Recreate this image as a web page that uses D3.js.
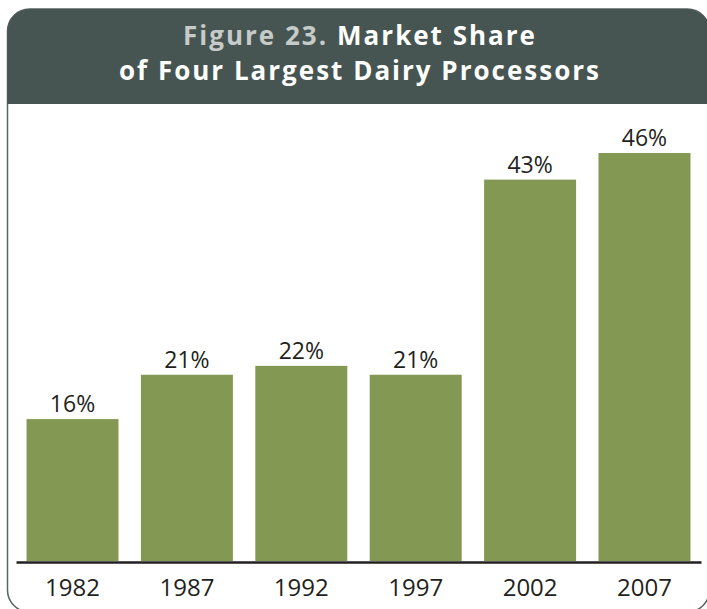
<!DOCTYPE html>
<html>
<head>
<meta charset="UTF-8">
<title>Market Share of Four Largest Dairy Processors</title>
<script src="https://d3js.org/d3.v7.min.js"></script>
<style>
  body { margin: 0; background: #fff; }
  svg text { font-family: 'Open Sans', sans-serif; }
</style>
</head>
<body>
<script>
  // data
  var years = ["1982", "1987", "1992", "1997", "2002", "2007"];
  var shares = [16, 21, 22, 21, 43, 46];
  var titleLead = "Figure 23.";
  var titleLines = ["Market Share", "of Four Largest Dairy Processors"];

  var width = 707, height = 609;

  var svg = d3.select("body").append("svg")
    .attr("width", width)
    .attr("height", height);

  // panel: rounded box, dark header
  var px = 7.5, py = 9, pw = 702, ph = 603, r = 22, headH = 95;

  svg.append("rect")
    .attr("x", px).attr("y", py)
    .attr("width", pw).attr("height", ph)
    .attr("rx", r).attr("ry", r)
    .style("fill", "#fff")
    .style("stroke", "#5b6562")
    .style("stroke-width", 1.5);

  var clip = svg.append("clipPath").attr("id", "head");
  clip.append("rect")
    .attr("x", px).attr("y", py)
    .attr("width", pw).attr("height", ph)
    .attr("rx", r).attr("ry", r);

  svg.append("rect")
    .attr("x", px - 1).attr("y", py - 1)
    .attr("width", pw + 2).attr("height", headH + 1)
    .attr("clip-path", "url(#head)")
    .style("fill", "#465452");

  // title, first line in two colours -> two texts placed side by side
  var cx = 360, gap = 9;
  function titleText(str, yy, col) {
    return svg.append("text")
      .attr("y", yy)
      .style("font-size", "26px")
      .style("font-weight", "bold")
      .style("letter-spacing", "2px")
      .style("fill", col)
      .text(str);
  }
  var lead = titleText(titleLead, 44.5, "#c6cbc9");
  var rest = titleText(titleLines[0], 44.5, "#fff");
  var w1 = lead.node().getComputedTextLength(),
      w2 = rest.node().getComputedTextLength();
  var start = cx - (w1 + gap + w2) / 2;
  lead.attr("x", start);
  rest.attr("x", start + w1 + gap);

  titleText(titleLines[1], 80, "#fff")
    .attr("x", cx)
    .attr("text-anchor", "middle");

  // scales
  var x = d3.scaleBand()
    .domain(years)
    .range([16, 701])
    .paddingInner(0.196)
    .paddingOuter(0.092);

  var y = d3.scaleLinear()
    .domain([0, 46])
    .range([561, 153]);

  svg.append("g")
    .selectAll("rect")
    .data(shares)
    .enter().append("rect")
    .attr("x", function(d, i) { return x(years[i]); })
    .attr("y", function(d) { return y(d); })
    .attr("width", x.bandwidth())
    .attr("height", function(d) { return y(0) - y(d); })
    .style("fill", "#839852");

  svg.append("g")
    .selectAll("text")
    .data(shares)
    .enter().append("text")
    .attr("x", function(d, i) { return x(years[i]) + x.bandwidth() / 2; })
    .attr("y", function(d) { return y(d) - 7; })
    .attr("text-anchor", "middle")
    .style("font-size", "23px")
    .style("fill", "#231f20")
    .text(function(d) { return d + "%"; });

  // baseline + year labels
  var axis = svg.append("g")
    .attr("transform", "translate(0," + (y(0) + 1) + ")")
    .call(d3.axisBottom(x).tickSize(0).tickPadding(17));

  axis.select(".domain")
    .style("stroke", "#231f20")
    .style("stroke-width", 2.5);

  axis.selectAll("text")
    .style("font-family", "'Open Sans', sans-serif")
    .style("font-size", "24px")
    .style("fill", "#231f20");
</script>
</body>
</html>
